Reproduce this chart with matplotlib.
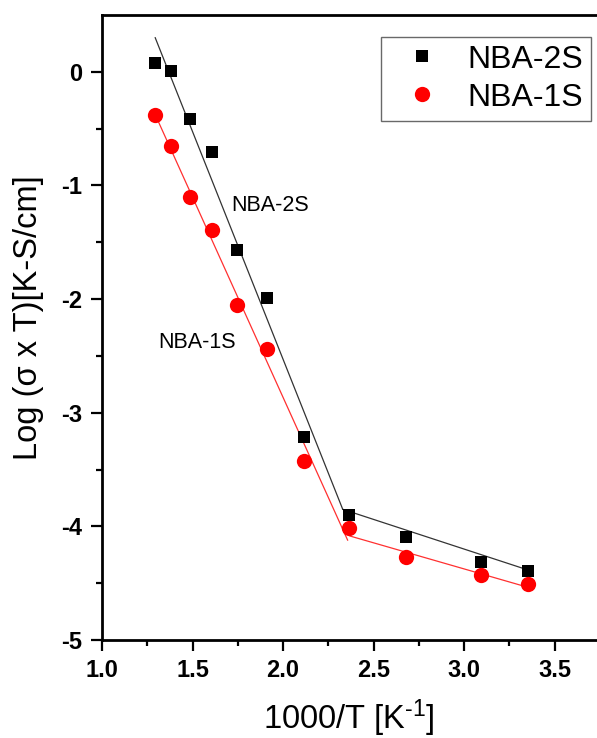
import numpy as np
import matplotlib
matplotlib.use("Agg")
import matplotlib.pyplot as plt

plt.rcParams['font.family'] = ['Liberation Sans', 'DejaVu Sans']
plt.rcParams['mathtext.fontset'] = 'custom'
plt.rcParams['mathtext.rm'] = 'Liberation Sans'
plt.rcParams['mathtext.default'] = 'rm'
plt.rcParams['axes.unicode_minus'] = False

# 1000/T
inv_t = [1.294, 1.383, 1.486, 1.605, 1.745, 1.912, 2.114, 2.364, 2.681, 3.096, 3.354]
# log(sigma*T)
nba_2s = [0.079, 0.006, -0.412, -0.702, -1.570, -1.991, -3.211, -3.897, -4.093, -4.318, -4.391]
nba_1s = [-0.377, -0.652, -1.099, -1.395, -2.055, -2.435, -3.426, -4.011, -4.272, -4.430, -4.511]

# linear fit segments as drawn (high T and low T regions)
fit2s_hi_x = [1.294, 2.33]
fit2s_hi_y = [0.30, -3.85]
fit2s_lo_x = [2.33, 3.346]
fit2s_lo_y = [-3.85, -4.38]
fit1s_hi_x = [1.294, 2.357]
fit1s_hi_y = [-0.377, -4.121]
fit1s_lo_x = [2.37, 3.346]
fit1s_lo_y = [-4.085, -4.533]

fig = plt.figure(figsize=(5.97, 7.38), dpi=100)
ax = fig.add_axes([102/597, 98/738, 506.8/597, 625/738])

ax.plot(fit2s_hi_x, fit2s_hi_y, color='#333333', lw=0.9)
ax.plot(fit2s_lo_x, fit2s_lo_y, color='#333333', lw=0.9)
ax.plot(fit1s_hi_x, fit1s_hi_y, color='#ff3030', lw=0.9)
ax.plot(fit1s_lo_x, fit1s_lo_y, color='#ff3030', lw=0.9)

ax.plot(inv_t, nba_2s, 's', color='black', ms=9, mew=0, label='NBA-2S')
ax.plot(inv_t, nba_1s, 'o', color='red', ms=11, mew=0, label='NBA-1S')

ax.text(1.716, -1.173, 'NBA-2S', fontsize=15.5, ha='left', va='center')
ax.text(1.311, -2.384, 'NBA-1S', fontsize=15.5, ha='left', va='center')

ax.set_xlim(1.0, 3.8)
ax.set_ylim(-5, 0.5)
ax.set_xticks([1.0, 1.5, 2.0, 2.5, 3.0, 3.5])
ax.set_xticks(np.arange(1.25, 3.8, 0.5), minor=True)
ax.set_yticks([-5, -4, -3, -2, -1, 0])
ax.set_yticks(np.arange(-4.5, 0.5, 1.0), minor=True)

for s in ['left', 'bottom', 'top']:
    ax.spines[s].set_linewidth(2)
ax.spines['right'].set_visible(False)
ax.tick_params(which='major', direction='out', length=8, width=1.6, pad=6,
               labelsize=17, top=False, right=False)
ax.tick_params(which='minor', direction='out', length=4, width=1.6, top=False, right=False)
for lab in ax.get_xticklabels() + ax.get_yticklabels():
    lab.set_fontweight('bold')

fig.text(29/597, 1 - 318/738, 'Log (σ x T)[K-S/cm]', rotation=90, fontsize=23.5,
         ha='center', va='center')
fig.text(349/597, 1 - 729/738, r'1000/T [K$^{\text{-}1}$]', fontsize=23.5,
         ha='center', va='baseline')

leg = ax.legend(loc='upper right', bbox_to_anchor=(0.9645, 0.9653), borderaxespad=0,
                fontsize=23, frameon=True, fancybox=False, handlelength=2.05,
                handletextpad=0.4, borderpad=0.25, labelspacing=0.25)
leg.get_frame().set_edgecolor('#444444')
leg.get_frame().set_linewidth(1)

fig.savefig('out.png', dpi=100)
